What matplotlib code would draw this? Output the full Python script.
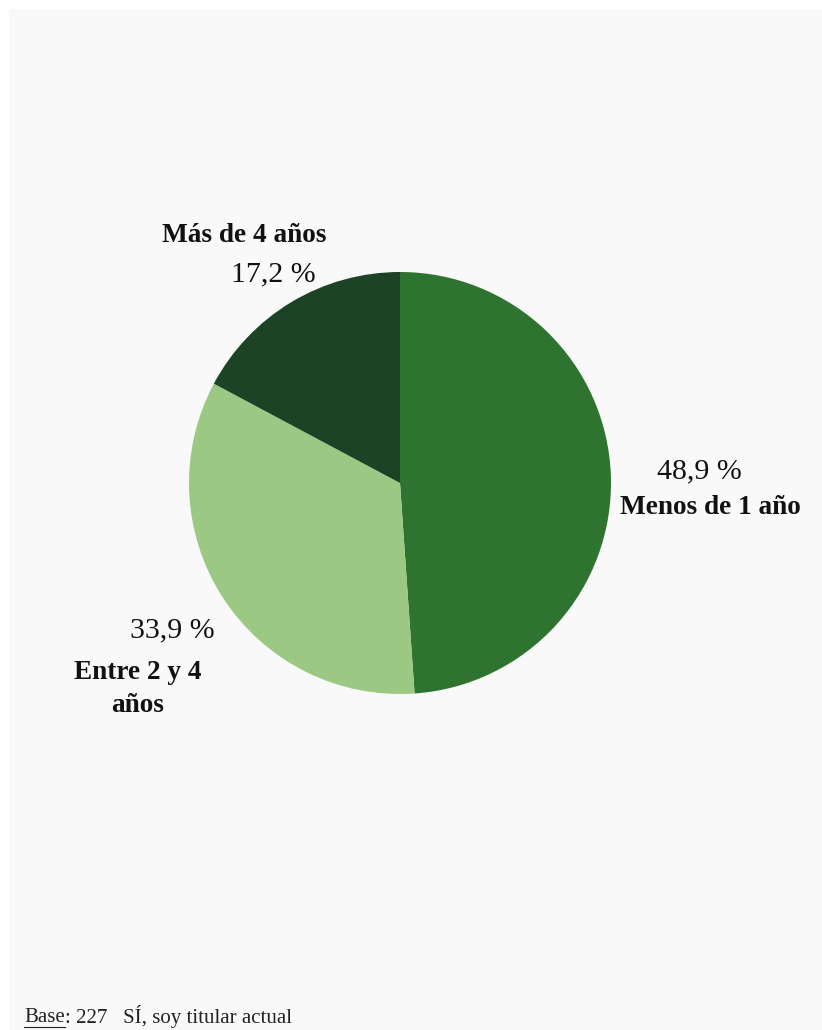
import matplotlib
matplotlib.use("Agg")
import matplotlib.pyplot as plt
from matplotlib.patches import Rectangle
from matplotlib.lines import Line2D

categories = ["Menos de 1 año", "Entre 2 y 4\naños", "Más de 4 años"]
values = [48.9, 33.9, 17.2]
value_labels = ["48,9 %", "33,9 %", "17,2 %"]
colors = ["#2e7330", "#9bc984", "#1c4325"]

W, H = 822, 1030
fig = plt.figure(figsize=(W / 100, H / 100), dpi=100)
fig.patch.set_facecolor("white")

bg = fig.add_axes([0, 0, 1, 1])
bg.set_xlim(0, W)
bg.set_ylim(H, 0)
bg.axis("off")
bg.add_patch(Rectangle((9, 9), W - 9, H - 9, facecolor="#f9f9f9", edgecolor="none"))

cx, cy, r = 400, 483, 211
pax = fig.add_axes([(cx - r) / W, (H - cy - r) / H, 2 * r / W, 2 * r / H])
pax.pie(values, colors=colors, startangle=90, counterclock=False, radius=1,
        wedgeprops=dict(linewidth=0))
pax.set_xlim(-1, 1)
pax.set_ylim(-1, 1)
pax.set_aspect("equal")
pax.axis("off")

serif = ["Liberation Serif", "DejaVu Serif"]
fs_v = 21.5
fs_c = 19.6

# Menos de 1 año
bg.text(699, 471, value_labels[0], ha="center", va="center", fontsize=fs_v, family=serif, color="#111111")
bg.text(710, 507, categories[0], ha="center", va="center", fontsize=fs_c, family=serif, weight="bold", color="#111111")
# Entre 2 y 4 años
bg.text(172, 630, value_labels[1], ha="center", va="center", fontsize=fs_v, family=serif, color="#111111")
bg.text(138, 689, categories[1], ha="center", va="center", fontsize=fs_c, family=serif, weight="bold",
        color="#111111", linespacing=1.4)
# Más de 4 años
bg.text(244, 236, categories[2], ha="center", va="center", fontsize=fs_c, family=serif, weight="bold", color="#111111")
bg.text(273, 274, value_labels[2], ha="center", va="center", fontsize=fs_v, family=serif, color="#111111")

# Footer
fs_f = 15
t1 = bg.text(24, 1017, "Base", ha="left", va="center", fontsize=fs_f, family=serif, color="#222222")
fig.canvas.draw()
bb = t1.get_window_extent()
x0, x1 = bb.x0, bb.x1
bg.add_line(Line2D([x0, x1], [1027, 1027], color="#222222", linewidth=0.8))
bg.text(x1, 1017, ": 227   SÍ, soy titular actual", ha="left", va="center", fontsize=fs_f, family=serif, color="#222222")

fig.savefig("out.png", dpi=100, facecolor=fig.get_facecolor())
